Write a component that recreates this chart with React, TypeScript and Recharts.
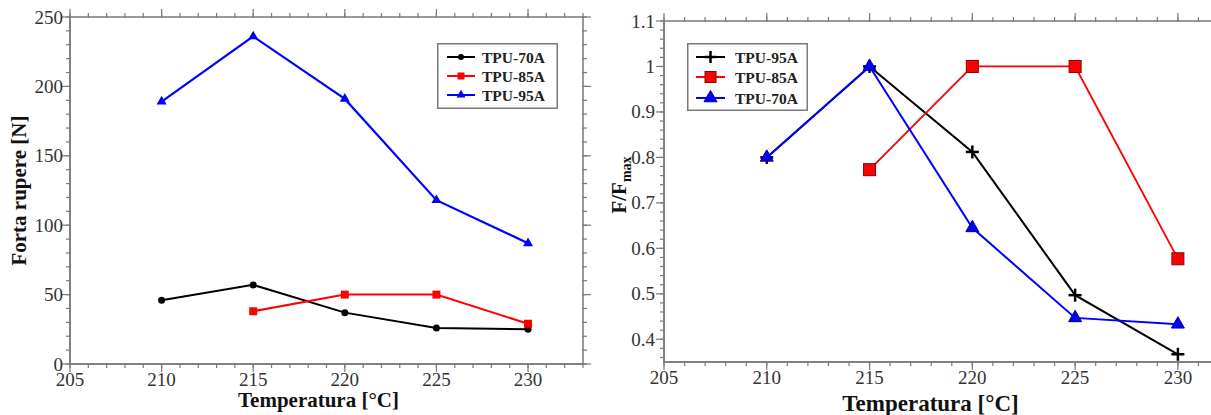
import React from 'react';
import { LineChart, Line, XAxis, YAxis, ReferenceArea } from 'recharts';

// ---------- data ----------
const temps = [210, 215, 220, 225, 230];

// left chart: breaking force [N]
const force70 = [46, 57, 37, 26, 25];
const force85 = [null, 38, 50, 50, 29];
const force95 = [189, 236, 191, 118, 87];

// right chart: F/Fmax
const norm95 = [0.8, 1.0, 0.812, 0.497, 0.367];
const norm85 = [null, 0.773, 1.0, 1.0, 0.577];
const norm70 = [0.8, 1.0, 0.645, 0.447, 0.433];

const leftNames = ['TPU-70A', 'TPU-85A', 'TPU-95A'];
const rightNames = ['TPU-95A', 'TPU-85A', 'TPU-70A'];

const xMajorTicks = [205, 210, 215, 220, 225, 230];
const leftYTicks = [0, 50, 100, 150, 200, 250];
const rightYTicks = [0.4, 0.5, 0.6, 0.7, 0.8, 0.9, 1, 1.1];

const leftXDomain: [number, number] = [205, 233];
const rightXDomain: [number, number] = [205, 232];
const leftYDomain: [number, number] = [0, 250];
const rightYDomain: [number, number] = [0.35, 1.1];

// ---------- styles ----------
const FRAME = '#7a7a7a';
const BLACK = '#000000';
const RED = '#ff0000';
const BLUE = '#0000ff';
const FONT = '"Liberation Serif", "Times New Roman", serif';
const TICK_FS = 19;

const steps = (a: number, b: number, s: number) => {
  const out: number[] = [];
  for (let v = a; v <= b + 1e-9; v += s) out.push(Math.round(v * 1000) / 1000);
  return out;
};

const leftRows = temps.map((t, i) => ({ t, a: force70[i], b: force85[i], c: force95[i] }));
const rightRows = temps.map((t, i) => ({ t, a: norm95[i], b: norm85[i], c: norm70[i] }));

type Shape = 'circle' | 'square' | 'triangle' | 'plus';

function Mark({ shape, cx, cy, color, size, stroke }: { shape: Shape; cx: number; cy: number; color: string; size: number; stroke?: string }) {
  if (cx == null || cy == null || isNaN(cx) || isNaN(cy)) return <g />;
  if (shape === 'circle') return <circle cx={cx} cy={cy} r={size / 2} fill={color} />;
  if (shape === 'square')
    return <rect x={cx - size / 2} y={cy - size / 2} width={size} height={size} fill={color} stroke={stroke || 'none'} strokeWidth={1} />;
  if (shape === 'triangle') {
    const h = size * 0.87;
    return (
      <polygon
        points={`${cx},${cy - (h * 2) / 3} ${cx - size / 2},${cy + h / 3} ${cx + size / 2},${cy + h / 3}`}
        fill={color}
        stroke={stroke || 'none'}
        strokeWidth={1}
      />
    );
  }
  const r = size / 2;
  return (
    <g stroke={color} strokeWidth={2.5}>
      <line x1={cx - r} x2={cx + r} y1={cy} y2={cy} />
      <line x1={cx} x2={cx} y1={cy - r} y2={cy + r} />
    </g>
  );
}

const dotFn = (shape: Shape, color: string, size: number, stroke?: string) => (p: any) => (
  <Mark key={`${shape}-${p.index}`} shape={shape} cx={p.cx} cy={p.cy} color={color} size={size} stroke={stroke} />
);

const XTick = (p: any) => (
  <text x={p.x} y={p.y} dy="0.72em" textAnchor="middle" fontFamily={FONT} fontSize={TICK_FS} fill="#333">
    {String(p.payload.value)}
  </text>
);
const YTick = (p: any) => (
  <text x={p.x} y={p.y} textAnchor="end" dominantBaseline="central" fontFamily={FONT} fontSize={TICK_FS} fill="#333">
    {String(p.payload.value)}
  </text>
);
const NoTick = () => <g />;

// inward-pointing major/minor ticks on all four sides of the frame
function frameAxes(
  pre: string,
  xDomain: [number, number],
  yDomain: [number, number],
  xMajor: number[],
  xMinor: number[],
  yMajor: number[],
  yMinor: number[]
) {
  const c = { tick: NoTick, interval: 0 as const, stroke: FRAME, allowDataOverflow: true, type: 'number' as const };
  const tl = { stroke: FRAME, strokeWidth: 1.2 };
  const xs = [
    { id: 'xbM', o: 'bottom', t: xMajor, s: -8 },
    { id: 'xbm', o: 'bottom', t: xMinor, s: -5 },
    { id: 'xtM', o: 'top', t: xMajor, s: -8 },
    { id: 'xtm', o: 'top', t: xMinor, s: -5 },
  ];
  const ys = [
    { id: 'ylM', o: 'left', t: yMajor, s: -8 },
    { id: 'ylm', o: 'left', t: yMinor, s: -5 },
    { id: 'yrM', o: 'right', t: yMajor, s: -8 },
    { id: 'yrm', o: 'right', t: yMinor, s: -5 },
  ];
  const out: any[] = [];
  xs.forEach((d) => {
    out.push(
      <XAxis key={pre + d.id} xAxisId={pre + d.id} dataKey="t" orientation={d.o as any} mirror domain={xDomain} ticks={d.t} tickSize={d.s} height={1} axisLine={false} tickLine={tl} {...c} />
    );
    out.push(
      <Line key={pre + d.id + 'L'} xAxisId={pre + d.id} yAxisId="y" dataKey="a" stroke="none" dot={false} activeDot={false} legendType="none" isAnimationActive={false} />
    );
  });
  ys.forEach((d) => {
    out.push(
      <YAxis key={pre + d.id} yAxisId={pre + d.id} orientation={d.o as any} mirror domain={yDomain} ticks={d.t} tickSize={d.s} width={1} axisLine={false} tickLine={tl} {...c} />
    );
    out.push(
      <Line key={pre + d.id + 'L'} xAxisId="x" yAxisId={pre + d.id} dataKey="a" stroke="none" dot={false} activeDot={false} legendType="none" isAnimationActive={false} />
    );
  });
  return out;
}

type LegendItem = { name: string; color: string; shape: Shape; size: number; stroke?: string };

function LegendBox({ left, top, width, height, items, rowY, lineX1, lineX2, textX, fontSize }: {
  left: number; top: number; width: number; height: number; items: LegendItem[]; rowY: number[];
  lineX1: number; lineX2: number; textX: number; fontSize: number;
}) {
  return (
    <svg style={{ position: 'absolute', left, top }} width={width} height={height}>
      <rect x={0.75} y={0.75} width={width - 1.5} height={height - 1.5} fill="#fff" stroke={FRAME} strokeWidth={1.5} />
      {items.map((it, i) => (
        <g key={it.name}>
          <line x1={lineX1} x2={lineX2} y1={rowY[i]} y2={rowY[i]} stroke={it.color} strokeWidth={2} />
          <Mark shape={it.shape} cx={(lineX1 + lineX2) / 2} cy={rowY[i]} color={it.color} size={it.size} stroke={it.stroke} />
          <text x={textX} y={rowY[i]} dominantBaseline="central" fontFamily={FONT} fontWeight="bold" fontSize={fontSize} fill="#222">
            {it.name}
          </text>
        </g>
      ))}
    </svg>
  );
}

export default function App() {
  const leftYMinor = steps(0, 250, 10);
  const xMinorL = steps(205, 233, 1);
  const xMinorR = steps(205, 232, 1);
  const rightYMinor = steps(0.36, 1.1, 0.02);

  return (
    <div style={{ position: 'fixed', left: 0, top: 0, width: 1211, height: 415, overflow: 'hidden', background: '#fff' }}>
      {/* LEFT CHART */}
      <div style={{ position: 'absolute', left: 0, top: 0 }}>
        <LineChart width={600} height={415} data={leftRows} margin={{ top: 17, right: 17, bottom: 0, left: 0 }}>
          <XAxis
            xAxisId="x"
            dataKey="t"
            type="number"
            domain={leftXDomain}
            ticks={xMajorTicks}
            interval={0}
            allowDataOverflow
            height={51}
            tickLine={false}
            tickSize={6}
            tickMargin={2}
            axisLine={{ stroke: FRAME, strokeWidth: 1.5 }}
            tick={XTick}
            label={{
              content: (p: any) => (
                <text x={p.viewBox.x + p.viewBox.width / 2 - 8} y={p.viewBox.y + 43} textAnchor="middle" fontFamily={FONT} fontWeight="bold" fontSize={21} fill="#111">
                  Temperatura [°C]
                </text>
              ),
            }}
          />
          <YAxis
            yAxisId="y"
            type="number"
            domain={leftYDomain}
            ticks={leftYTicks}
            interval={0}
            allowDataOverflow
            width={70}
            tickLine={false}
            tickSize={4}
            tickMargin={3}
            axisLine={{ stroke: FRAME, strokeWidth: 1.5 }}
            tick={YTick}
            label={{
              content: (p: any) => {
                const cx = 19;
                const cy = p.viewBox.y + p.viewBox.height / 2;
                return (
                  <text x={cx} y={cy} transform={`rotate(-90 ${cx} ${cy})`} textAnchor="middle" dominantBaseline="central" fontFamily={FONT} fontWeight="bold" fontSize={21} fill="#111">
                    Forta rupere [N]
                  </text>
                );
              },
            }}
          />
          {frameAxes('L', leftXDomain, leftYDomain, xMajorTicks, xMinorL, leftYTicks, leftYMinor)}
          <ReferenceArea xAxisId="x" yAxisId="y" x1={leftXDomain[0]} x2={leftXDomain[1]} y1={leftYDomain[0]} y2={leftYDomain[1]} fill="none" fillOpacity={0} stroke={FRAME} strokeWidth={1.5} ifOverflow="visible" />
          <Line xAxisId="x" yAxisId="y" dataKey="a" name={leftNames[0]} stroke={BLACK} strokeWidth={2} isAnimationActive={false} dot={dotFn('circle', BLACK, 7)} />
          <Line xAxisId="x" yAxisId="y" dataKey="b" name={leftNames[1]} stroke={RED} strokeWidth={2} isAnimationActive={false} dot={dotFn('square', RED, 8)} />
          <Line xAxisId="x" yAxisId="y" dataKey="c" name={leftNames[2]} stroke={BLUE} strokeWidth={2.2} isAnimationActive={false} dot={dotFn('triangle', BLUE, 10)} />
        </LineChart>
      </div>

      {/* RIGHT CHART */}
      <div style={{ position: 'absolute', left: 600, top: 0 }}>
        <LineChart width={625} height={415} data={rightRows} margin={{ top: 21, right: 6, bottom: 0, left: 0 }}>
          <XAxis
            xAxisId="x"
            dataKey="t"
            type="number"
            domain={rightXDomain}
            ticks={xMajorTicks}
            interval={0}
            allowDataOverflow
            height={53}
            tickLine={false}
            tickSize={6}
            tickMargin={2}
            axisLine={{ stroke: FRAME, strokeWidth: 1.5 }}
            tick={XTick}
            label={{
              content: (p: any) => (
                <text x={p.viewBox.x + p.viewBox.width / 2 - 11} y={p.viewBox.y + 49} textAnchor="middle" fontFamily={FONT} fontWeight="bold" fontSize={23} fill="#111">
                  Temperatura [°C]
                </text>
              ),
            }}
          />
          <YAxis
            yAxisId="y"
            type="number"
            domain={rightYDomain}
            ticks={rightYTicks}
            interval={0}
            allowDataOverflow
            width={64}
            tickLine={false}
            tickSize={6}
            tickMargin={3}
            axisLine={{ stroke: FRAME, strokeWidth: 1.5 }}
            tick={YTick}
            label={{
              content: () => {
                const cx = 19;
                const cy = 185;
                return (
                  <text x={cx} y={cy} transform={`rotate(-90 ${cx} ${cy})`} textAnchor="middle" dominantBaseline="central" fontFamily={FONT} fontWeight="bold" fontSize={21} fill="#111">
                    F/F
                    <tspan fontSize={14} baselineShift="sub">max</tspan>
                  </text>
                );
              },
            }}
          />
          {frameAxes('R', rightXDomain, rightYDomain, xMajorTicks, xMinorR, rightYTicks, rightYMinor)}
          <ReferenceArea xAxisId="x" yAxisId="y" x1={rightXDomain[0]} x2={rightXDomain[1]} y1={rightYDomain[0]} y2={rightYDomain[1]} fill="none" fillOpacity={0} stroke={FRAME} strokeWidth={1.5} ifOverflow="visible" />
          <Line xAxisId="x" yAxisId="y" dataKey="a" name={rightNames[0]} stroke={BLACK} strokeWidth={2} isAnimationActive={false} dot={dotFn('plus', BLACK, 13)} />
          <Line xAxisId="x" yAxisId="y" dataKey="b" name={rightNames[1]} stroke={RED} strokeWidth={1.8} isAnimationActive={false} dot={dotFn('square', RED, 12, '#8a0000')} />
          <Line xAxisId="x" yAxisId="y" dataKey="c" name={rightNames[2]} stroke={BLUE} strokeWidth={2} isAnimationActive={false} dot={dotFn('triangle', BLUE, 13, '#00008a')} />
        </LineChart>
      </div>

      <LegendBox
        left={437}
        top={43}
        width={121}
        height={66}
        rowY={[14, 33, 52]}
        lineX1={10}
        lineX2={38}
        textX={45}
        fontSize={15.5}
        items={[
          { name: leftNames[0], color: BLACK, shape: 'circle', size: 6 },
          { name: leftNames[1], color: RED, shape: 'square', size: 7 },
          { name: leftNames[2], color: BLUE, shape: 'triangle', size: 9 },
        ]}
      />
      <LegendBox
        left={687}
        top={43}
        width={121}
        height={68}
        rowY={[14, 34, 55]}
        lineX1={9}
        lineX2={38}
        textX={48}
        fontSize={15.5}
        items={[
          { name: rightNames[0], color: BLACK, shape: 'plus', size: 12 },
          { name: rightNames[1], color: RED, shape: 'square', size: 11, stroke: '#8a0000' },
          { name: rightNames[2], color: BLUE, shape: 'triangle', size: 13, stroke: '#00008a' },
        ]}
      />
    </div>
  );
}
